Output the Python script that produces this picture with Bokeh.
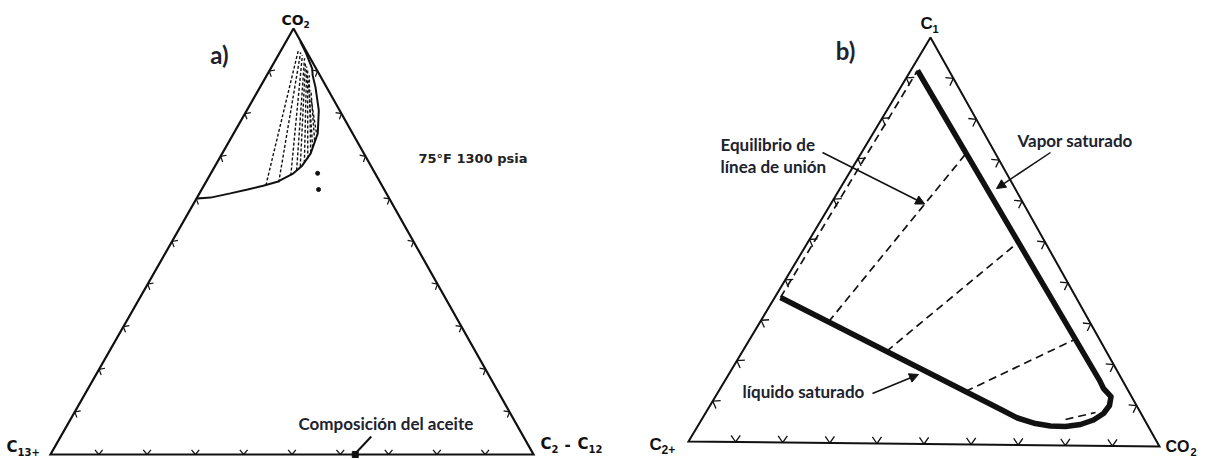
import numpy as np
from bokeh.plotting import figure
from bokeh.models import Range1d, Arrow, NormalHead
from bokeh.embed import file_html
from bokeh.resources import INLINE
from bokeh.core.properties import value

# ---------------- panel a) : CO2 / (C2-C12) / C13+  at 75 F, 1300 psia ----------------
# mole fractions: CO2 (top vertex) and C2-C12 (right vertex); C13+ is the remainder
a_env_co2 = [0.601, 0.603, 0.613, 0.622, 0.631, 0.641, 0.660, 0.678, 0.707, 0.754, 0.808, 0.862, 0.890, 0.906, 0.940, 0.970]
a_env_c212 = [0.002, 0.028, 0.064, 0.095, 0.123, 0.149, 0.171, 0.180, 0.183, 0.174, 0.149, 0.115, 0.095, 0.086, 0.057, 0.029]

a_tie_liq_co2 = [0.632, 0.639, 0.655, 0.667, 0.676, 0.685, 0.695, 0.709, 0.721, 0.737, 0.756]
a_tie_liq_c212 = [0.128, 0.151, 0.168, 0.174, 0.177, 0.181, 0.183, 0.182, 0.180, 0.176, 0.170]
a_tie_vap_co2 = [0.948, 0.944, 0.937, 0.930, 0.920, 0.911, 0.901, 0.890, 0.878, 0.855, 0.831]
a_tie_vap_c212 = [0.036, 0.043, 0.050, 0.058, 0.065, 0.072, 0.079, 0.088, 0.092, 0.109, 0.122]

a_pts_co2 = [0.660, 0.622]
a_pts_c212 = [0.221, 0.242]
oil_co2 = 0.0
oil_c212 = 0.631

# ---------------- panel b) : C1 / C2+ / CO2 ----------------
# mole fractions: C1 (top vertex) and CO2 (right vertex); C2+ is the remainder
# saturated vapour (top) -> loop near the CO2 corner -> saturated liquid (left)
b_env_c1 = [0.9185, 0.1610, 0.1412, 0.1217, 0.0995, 0.0797, 0.0635, 0.0520, 0.0467, 0.0476,
            0.0533, 0.0664, 0.0873, 0.3566]
b_env_co2 = [0.0143, 0.7900, 0.8086, 0.8345, 0.8427, 0.8402, 0.8273, 0.8055, 0.7764, 0.7441,
             0.7093, 0.6644, 0.6175, 0.0121]

b_tie_liq_c1 = [0.3566, 0.2978, 0.2268, 0.1302, 0.0640]
b_tie_liq_co2 = [0.0121, 0.1442, 0.3039, 0.5212, 0.7676]
b_tie_vap_c1 = [0.9185, 0.7156, 0.4981, 0.2610, 0.0820]
b_tie_vap_co2 = [0.0143, 0.2215, 0.4435, 0.6857, 0.8220]

tick_fracs = [0.1, 0.2, 0.3, 0.4, 0.5, 0.6, 0.7, 0.8, 0.9]

# ---------------- layout (screen positions of triangle vertices) ----------------
W, H = 1209, 459
A_TOP, A_LEFT, A_RIGHT = (293, 28), (50, 454), (533, 454)
B_TOP, B_LEFT, B_RIGHT = (930, 37), (688, 441), (1159, 446)


def tern(top, left, right, f_top, f_right):
    f_top = np.asarray(f_top, float)
    f_right = np.asarray(f_right, float)
    f_left = 1.0 - f_top - f_right
    x = f_top * top[0] + f_left * left[0] + f_right * right[0]
    y = f_top * top[1] + f_left * left[1] + f_right * right[1]
    return x, y


def chevrons(top, left, right, size, angle_deg):
    verts = [np.array(top, float), np.array(left, float), np.array(right, float)]
    xs, ys = [], []
    th = np.radians(angle_deg)
    for i in range(3):
        a, b, c = verts[i], verts[(i + 1) % 3], verts[(i + 2) % 3]
        t = (b - a) / np.linalg.norm(b - a)
        n = np.array([-t[1], t[0]])
        if np.dot(c - a, n) < 0:
            n = -n
        for f in tick_fracs:
            pnt = a + f * (b - a)
            e1 = pnt + size * (np.cos(th) * n + np.sin(th) * t)
            e2 = pnt + size * (np.cos(th) * n - np.sin(th) * t)
            xs.append([e1[0], pnt[0], e2[0]])
            ys.append([e1[1], pnt[1], e2[1]])
    return xs, ys


p = figure(width=W, height=H, x_range=Range1d(0, W), y_range=Range1d(H, 0),
           toolbar_location=None, output_backend="svg", min_border=0,
           x_axis_location=None, y_axis_location=None)
p.grid.visible = False
p.outline_line_color = None
p.background_fill_color = "white"
p.border_fill_color = "white"

INK = "#111111"
NOTE = "#20222e"


def chem_label(x, y, parts, font, big, small, color=INK):
    """Draw a formula from (text, is_subscript, advance_px) pieces starting at x."""
    for txt, sub, adv in parts:
        p.text(x=[x], y=[y + (5 if sub else 0)], text=[txt], text_font=value(font),
               text_font_style="bold", text_font_size=f"{small if sub else big}px",
               text_align="left", text_baseline="middle", text_color=color)
        x += adv


def note(x, y, txt, size=17, bold=True, font="Lato", align="left", color=NOTE):
    p.text(x=[x], y=[y], text=[txt], text_font=value(font),
           text_font_style="bold" if bold else "normal", text_font_size=f"{size}px",
           text_align=align, text_baseline="middle", text_color=color)


# ================= panel a) =================
tx = [A_TOP[0], A_LEFT[0], A_RIGHT[0], A_TOP[0]]
ty = [A_TOP[1], A_LEFT[1], A_RIGHT[1], A_TOP[1]]
p.line(tx, ty, line_color=INK, line_width=2.2, line_join="miter")

cx, cy = chevrons(A_TOP, A_LEFT, A_RIGHT, 6, 40)
p.multi_line(cx, cy, line_color=INK, line_width=1.2)

ex, ey = tern(A_TOP, A_LEFT, A_RIGHT, a_env_co2, a_env_c212)
p.line(ex, ey, line_color=INK, line_width=2.0)

lx, ly = tern(A_TOP, A_LEFT, A_RIGHT, a_tie_liq_co2, a_tie_liq_c212)
vx, vy = tern(A_TOP, A_LEFT, A_RIGHT, a_tie_vap_co2, a_tie_vap_c212)
p.multi_line([[lx[i], vx[i]] for i in range(len(lx))],
             [[ly[i], vy[i]] for i in range(len(ly))],
             line_color=INK, line_width=1.4, line_dash="3 2")

px_, py_ = tern(A_TOP, A_LEFT, A_RIGHT, a_pts_co2, a_pts_c212)
p.scatter(px_, py_, size=4, color=INK, marker="circle")

ox, oy = tern(A_TOP, A_LEFT, A_RIGHT, [oil_co2], [oil_c212])
p.scatter(ox, oy, size=6, color=INK, marker="square")
p.line([ox[0] + 16, ox[0] + 1], [oy[0] - 18, oy[0] - 2], line_color=INK, line_width=2)

chem_label(281, 19, [("CO", False, 22), ("2", True, 0)], "DejaVu Sans", 14, 9)
chem_label(6, 446, [("C", False, 11), ("13+", True, 0)], "DejaVu Sans", 15, 10)
chem_label(540, 443, [("C", False, 11), ("2", True, 13), ("-", False, 13), ("C", False, 11),
                      ("12", True, 0)], "DejaVu Sans", 15, 10)
note(418, 158, "75°F  1300 psia", size=13, font="DejaVu Sans", color="#222222")
note(219, 54, "a)", size=24, align="center")
note(298, 423, "Composición del aceite")

# ================= panel b) =================
tx = [B_TOP[0], B_LEFT[0], B_RIGHT[0], B_TOP[0]]
ty = [B_TOP[1], B_LEFT[1], B_RIGHT[1], B_TOP[1]]
p.line(tx, ty, line_color=INK, line_width=2.0, line_join="miter")

cx, cy = chevrons(B_TOP, B_LEFT, B_RIGHT, 8, 35)
p.multi_line(cx, cy, line_color=INK, line_width=1.3)

lx, ly = tern(B_TOP, B_LEFT, B_RIGHT, b_tie_liq_c1, b_tie_liq_co2)
vx, vy = tern(B_TOP, B_LEFT, B_RIGHT, b_tie_vap_c1, b_tie_vap_co2)
p.multi_line([[lx[i], vx[i]] for i in range(len(lx))],
             [[ly[i], vy[i]] for i in range(len(ly))],
             line_color=INK, line_width=1.7, line_dash="8 5")

ex, ey = tern(B_TOP, B_LEFT, B_RIGHT, b_env_c1, b_env_co2)
p.line(ex, ey, line_color=INK, line_width=5.5, line_join="round", line_cap="butt")

chem_label(920, 23, [("C", False, 12), ("1", True, 0)], "Liberation Sans", 17, 11)
chem_label(649, 444, [("C", False, 12), ("2+", True, 0)], "Liberation Sans", 17, 12)
chem_label(1165, 446, [("CO", False, 25), ("2", True, 0)], "Liberation Sans", 16, 11)
note(845, 50, "b)", size=24, align="center")

note(720, 144, "Equilibrio de")
note(720, 166, "línea de unión")
note(1017, 140, "Vapor saturado")
note(742, 391, "líquido saturado")

# leader arrows pointing to a tie line and to the two saturation branches
tie_pt_x = vx[1] + 0.30 * (lx[1] - vx[1])
tie_pt_y = vy[1] + 0.30 * (ly[1] - vy[1])
vap_x, vap_y = tern(B_TOP, B_LEFT, B_RIGHT, [0.6303], [0.3301])
liq_x, liq_y = tern(B_TOP, B_LEFT, B_RIGHT, [0.1708], [0.4006])

for (x0, y0, x1, y1) in [(822, 152, tie_pt_x, tie_pt_y),
                         (1050, 152, vap_x[0], vap_y[0]),
                         (872, 393, liq_x[0], liq_y[0])]:
    p.add_layout(Arrow(end=NormalHead(size=9, fill_color=INK, line_color=INK),
                       x_start=x0, y_start=y0, x_end=x1, y_end=y1,
                       line_color=INK, line_width=1.5))

open("out.html", "w").write(file_html(p, INLINE))
